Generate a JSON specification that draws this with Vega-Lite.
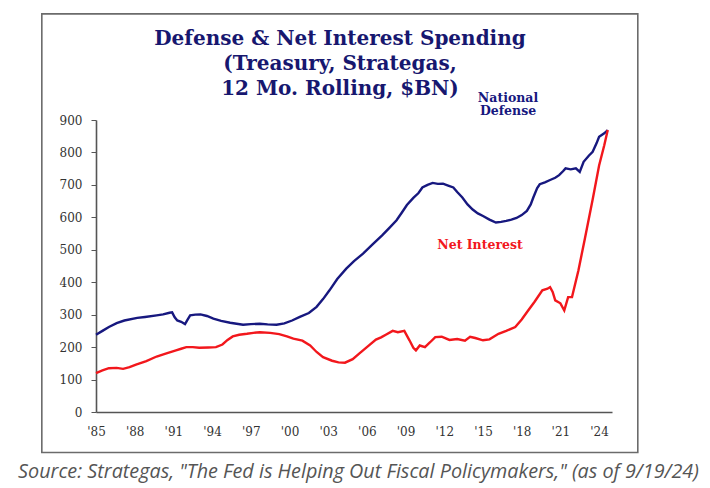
{
  "$schema": "https://vega.github.io/schema/vega-lite/v6.json",
  "width": 516,
  "height": 292,
  "autosize": {"type": "none"},
  "padding": {"left": 96, "top": 120, "right": 98, "bottom": 76},
  "background": "white",
  "config": {
    "view": {"stroke": null},
    "axis": {"labelOverlap": false, "labelFlush": false, "labelBound": false},
    "axisX": {"labelOverlap": false},
    "axisY": {"labelOverlap": false},
    "axisQuantitative": {"labelOverlap": false}
  },
  "title": {
    "text": ["Defense & Net Interest Spending", "(Treasury, Strategas,", "12 Mo. Rolling, $BN)"],
    "font": "DejaVu Serif",
    "fontWeight": "bold",
    "fontSize": 20,
    "lineHeight": 25,
    "color": "#17176f",
    "anchor": "middle",
    "frame": "group",
    "dx": -14,
    "offset": -86
  },
  "datasets": {
    "spend": [
      {"series": "National Defense", "year": 1985.0, "value": 238},
      {"series": "National Defense", "year": 1985.5, "value": 250},
      {"series": "National Defense", "year": 1986.0, "value": 262},
      {"series": "National Defense", "year": 1986.6, "value": 274},
      {"series": "National Defense", "year": 1987.2, "value": 282},
      {"series": "National Defense", "year": 1988.2, "value": 290},
      {"series": "National Defense", "year": 1988.8, "value": 293},
      {"series": "National Defense", "year": 1989.7, "value": 298},
      {"series": "National Defense", "year": 1990.2, "value": 301},
      {"series": "National Defense", "year": 1990.7, "value": 306},
      {"series": "National Defense", "year": 1990.9, "value": 307},
      {"series": "National Defense", "year": 1991.1, "value": 292},
      {"series": "National Defense", "year": 1991.3, "value": 282},
      {"series": "National Defense", "year": 1991.6, "value": 278},
      {"series": "National Defense", "year": 1991.9, "value": 271},
      {"series": "National Defense", "year": 1992.1, "value": 285},
      {"series": "National Defense", "year": 1992.3, "value": 298},
      {"series": "National Defense", "year": 1992.7, "value": 300},
      {"series": "National Defense", "year": 1993.1, "value": 301},
      {"series": "National Defense", "year": 1993.6, "value": 296},
      {"series": "National Defense", "year": 1994.1, "value": 288},
      {"series": "National Defense", "year": 1994.7, "value": 281},
      {"series": "National Defense", "year": 1995.4, "value": 275},
      {"series": "National Defense", "year": 1995.9, "value": 272},
      {"series": "National Defense", "year": 1996.4, "value": 269},
      {"series": "National Defense", "year": 1997.0, "value": 271},
      {"series": "National Defense", "year": 1997.7, "value": 272},
      {"series": "National Defense", "year": 1998.3, "value": 270},
      {"series": "National Defense", "year": 1999.0, "value": 269},
      {"series": "National Defense", "year": 1999.6, "value": 273},
      {"series": "National Defense", "year": 2000.2, "value": 282},
      {"series": "National Defense", "year": 2000.8, "value": 293},
      {"series": "National Defense", "year": 2001.5, "value": 305},
      {"series": "National Defense", "year": 2002.1, "value": 324},
      {"series": "National Defense", "year": 2002.6, "value": 348},
      {"series": "National Defense", "year": 2003.1, "value": 375},
      {"series": "National Defense", "year": 2003.7, "value": 410},
      {"series": "National Defense", "year": 2004.4, "value": 442},
      {"series": "National Defense", "year": 2005.0, "value": 465},
      {"series": "National Defense", "year": 2005.7, "value": 488},
      {"series": "National Defense", "year": 2006.4, "value": 515},
      {"series": "National Defense", "year": 2007.2, "value": 545},
      {"series": "National Defense", "year": 2007.8, "value": 570},
      {"series": "National Defense", "year": 2008.3, "value": 591},
      {"series": "National Defense", "year": 2008.7, "value": 614},
      {"series": "National Defense", "year": 2009.1, "value": 638},
      {"series": "National Defense", "year": 2009.6, "value": 660},
      {"series": "National Defense", "year": 2010.0, "value": 675},
      {"series": "National Defense", "year": 2010.3, "value": 692},
      {"series": "National Defense", "year": 2010.7, "value": 700},
      {"series": "National Defense", "year": 2011.1, "value": 706},
      {"series": "National Defense", "year": 2011.5, "value": 703},
      {"series": "National Defense", "year": 2011.9, "value": 704},
      {"series": "National Defense", "year": 2012.3, "value": 698},
      {"series": "National Defense", "year": 2012.7, "value": 692},
      {"series": "National Defense", "year": 2013.0, "value": 678},
      {"series": "National Defense", "year": 2013.4, "value": 661},
      {"series": "National Defense", "year": 2013.8, "value": 640},
      {"series": "National Defense", "year": 2014.2, "value": 624},
      {"series": "National Defense", "year": 2014.6, "value": 612},
      {"series": "National Defense", "year": 2015.0, "value": 604},
      {"series": "National Defense", "year": 2015.5, "value": 593},
      {"series": "National Defense", "year": 2016.0, "value": 584},
      {"series": "National Defense", "year": 2016.4, "value": 586},
      {"series": "National Defense", "year": 2016.8, "value": 589},
      {"series": "National Defense", "year": 2017.2, "value": 593},
      {"series": "National Defense", "year": 2017.6, "value": 598},
      {"series": "National Defense", "year": 2018.0, "value": 607},
      {"series": "National Defense", "year": 2018.4, "value": 620},
      {"series": "National Defense", "year": 2018.7, "value": 640},
      {"series": "National Defense", "year": 2018.9, "value": 661},
      {"series": "National Defense", "year": 2019.2, "value": 690},
      {"series": "National Defense", "year": 2019.4, "value": 702},
      {"series": "National Defense", "year": 2019.8, "value": 708},
      {"series": "National Defense", "year": 2020.2, "value": 715},
      {"series": "National Defense", "year": 2020.6, "value": 722},
      {"series": "National Defense", "year": 2020.9, "value": 730},
      {"series": "National Defense", "year": 2021.2, "value": 742},
      {"series": "National Defense", "year": 2021.4, "value": 751},
      {"series": "National Defense", "year": 2021.8, "value": 748},
      {"series": "National Defense", "year": 2022.2, "value": 751},
      {"series": "National Defense", "year": 2022.5, "value": 740},
      {"series": "National Defense", "year": 2022.8, "value": 771},
      {"series": "National Defense", "year": 2023.2, "value": 790},
      {"series": "National Defense", "year": 2023.5, "value": 802},
      {"series": "National Defense", "year": 2023.8, "value": 828},
      {"series": "National Defense", "year": 2024.0, "value": 848},
      {"series": "National Defense", "year": 2024.4, "value": 859},
      {"series": "National Defense", "year": 2024.67, "value": 869},
      {"series": "Net Interest", "year": 1985.0, "value": 120},
      {"series": "Net Interest", "year": 1985.5, "value": 128},
      {"series": "Net Interest", "year": 1986.0, "value": 135},
      {"series": "Net Interest", "year": 1986.6, "value": 136},
      {"series": "Net Interest", "year": 1987.1, "value": 133},
      {"series": "Net Interest", "year": 1987.6, "value": 138},
      {"series": "Net Interest", "year": 1988.1, "value": 146},
      {"series": "Net Interest", "year": 1988.9, "value": 157},
      {"series": "Net Interest", "year": 1989.7, "value": 171},
      {"series": "Net Interest", "year": 1990.4, "value": 180},
      {"series": "Net Interest", "year": 1991.2, "value": 190},
      {"series": "Net Interest", "year": 1991.6, "value": 195},
      {"series": "Net Interest", "year": 1992.0, "value": 200},
      {"series": "Net Interest", "year": 1992.5, "value": 200},
      {"series": "Net Interest", "year": 1993.0, "value": 198},
      {"series": "Net Interest", "year": 1993.7, "value": 199},
      {"series": "Net Interest", "year": 1994.3, "value": 200},
      {"series": "Net Interest", "year": 1994.8, "value": 208},
      {"series": "Net Interest", "year": 1995.2, "value": 222},
      {"series": "Net Interest", "year": 1995.6, "value": 233},
      {"series": "Net Interest", "year": 1996.1, "value": 238},
      {"series": "Net Interest", "year": 1996.7, "value": 241},
      {"series": "Net Interest", "year": 1997.2, "value": 244},
      {"series": "Net Interest", "year": 1997.7, "value": 246},
      {"series": "Net Interest", "year": 1998.5, "value": 244},
      {"series": "Net Interest", "year": 1999.2, "value": 240},
      {"series": "Net Interest", "year": 1999.8, "value": 233},
      {"series": "Net Interest", "year": 2000.3, "value": 226},
      {"series": "Net Interest", "year": 2001.0, "value": 220},
      {"series": "Net Interest", "year": 2001.6, "value": 205},
      {"series": "Net Interest", "year": 2002.1, "value": 185},
      {"series": "Net Interest", "year": 2002.6, "value": 169},
      {"series": "Net Interest", "year": 2003.3, "value": 158},
      {"series": "Net Interest", "year": 2003.8, "value": 153},
      {"series": "Net Interest", "year": 2004.3, "value": 152},
      {"series": "Net Interest", "year": 2004.9, "value": 163},
      {"series": "Net Interest", "year": 2005.4, "value": 180},
      {"series": "Net Interest", "year": 2006.0, "value": 200},
      {"series": "Net Interest", "year": 2006.7, "value": 223},
      {"series": "Net Interest", "year": 2007.1, "value": 230},
      {"series": "Net Interest", "year": 2007.5, "value": 239},
      {"series": "Net Interest", "year": 2008.0, "value": 250},
      {"series": "Net Interest", "year": 2008.4, "value": 246},
      {"series": "Net Interest", "year": 2008.9, "value": 250},
      {"series": "Net Interest", "year": 2009.3, "value": 221},
      {"series": "Net Interest", "year": 2009.6, "value": 198},
      {"series": "Net Interest", "year": 2009.8, "value": 190},
      {"series": "Net Interest", "year": 2010.1, "value": 205},
      {"series": "Net Interest", "year": 2010.5, "value": 200},
      {"series": "Net Interest", "year": 2010.9, "value": 215},
      {"series": "Net Interest", "year": 2011.3, "value": 231},
      {"series": "Net Interest", "year": 2011.8, "value": 232},
      {"series": "Net Interest", "year": 2012.4, "value": 222},
      {"series": "Net Interest", "year": 2013.0, "value": 225},
      {"series": "Net Interest", "year": 2013.6, "value": 220},
      {"series": "Net Interest", "year": 2014.0, "value": 232},
      {"series": "Net Interest", "year": 2014.4, "value": 228},
      {"series": "Net Interest", "year": 2015.0, "value": 221},
      {"series": "Net Interest", "year": 2015.5, "value": 224},
      {"series": "Net Interest", "year": 2016.2, "value": 241},
      {"series": "Net Interest", "year": 2016.8, "value": 250},
      {"series": "Net Interest", "year": 2017.5, "value": 262},
      {"series": "Net Interest", "year": 2018.0, "value": 285},
      {"series": "Net Interest", "year": 2018.5, "value": 313},
      {"series": "Net Interest", "year": 2019.0, "value": 340},
      {"series": "Net Interest", "year": 2019.6, "value": 375},
      {"series": "Net Interest", "year": 2020.0, "value": 380},
      {"series": "Net Interest", "year": 2020.2, "value": 385},
      {"series": "Net Interest", "year": 2020.4, "value": 370},
      {"series": "Net Interest", "year": 2020.6, "value": 344},
      {"series": "Net Interest", "year": 2021.0, "value": 335},
      {"series": "Net Interest", "year": 2021.3, "value": 313},
      {"series": "Net Interest", "year": 2021.6, "value": 354},
      {"series": "Net Interest", "year": 2021.9, "value": 354},
      {"series": "Net Interest", "year": 2022.4, "value": 437},
      {"series": "Net Interest", "year": 2022.9, "value": 535},
      {"series": "Net Interest", "year": 2023.5, "value": 655},
      {"series": "Net Interest", "year": 2024.0, "value": 760},
      {"series": "Net Interest", "year": 2024.4, "value": 822},
      {"series": "Net Interest", "year": 2024.67, "value": 869}
    ],
    "labels": [
      {"series": "National Defense", "year": 2016.94, "value": 968, "text": "National\nDefense"},
      {"series": "Net Interest", "year": 2014.77, "value": 516, "text": "Net Interest"}
    ]
  },
  "layer": [
    {
      "encoding": {
        "x": {
          "field": "year",
          "type": "quantitative",
          "scale": {"domain": [1985, 2025], "nice": false, "zero": false},
          "axis": {
            "values": [1985, 1988, 1991, 1994, 1997, 2000, 2003, 2006, 2009, 2012, 2015, 2018, 2021, 2024],
            "tickCount": 14,
            "labelExpr": "\"'\" + substring(toString(datum.value), 2)",
            "labelOverlap": false,
            "labelFlush": false,
            "ticks": false,
            "grid": false,
            "domainColor": "#555555",
            "domainWidth": 1.6,
            "labelFont": "DejaVu Serif",
            "labelFontSize": 12,
            "labelColor": "#333333",
            "labelPadding": 14,
            "title": "Source: Strategas, \"The Fed is Helping Out Fiscal Policymakers,\" (as of 9/19/24)",
            "titleFont": "Open Sans",
            "titleFontStyle": "italic",
            "titleFontWeight": "normal",
            "titleFontSize": 19.8,
            "titleColor": "#555555",
            "titlePadding": 24,
            "titleX": 262
          }
        },
        "y": {
          "field": "value",
          "type": "quantitative",
          "scale": {"domain": [0, 900], "nice": false},
          "axis": {
            "values": [0, 100, 200, 300, 400, 500, 600, 700, 800, 900],
            "tickCount": 10,
            "labelOverlap": false,
            "labelFlush": false,
            "grid": false,
            "title": null,
            "tickSize": 5,
            "tickColor": "#555555",
            "domainColor": "#555555",
            "domainWidth": 1.6,
            "labelFont": "DejaVu Serif",
            "labelFontSize": 12,
            "labelColor": "#333333",
            "labelPadding": 9
          }
        }
      },
      "layer": [
        {
          "data": {"name": "spend"},
          "mark": {"type": "line", "strokeWidth": 2.4, "interpolate": "linear"},
          "encoding": {
            "color": {
              "field": "series",
              "type": "nominal",
              "scale": {"domain": ["National Defense", "Net Interest"], "range": ["#17187f", "#f2171c"]},
              "legend": null
            }
          }
        },
        {
          "data": {"name": "labels"},
          "mark": {"type": "text", "font": "DejaVu Serif", "fontWeight": "bold", "fontSize": 12.5, "lineHeight": 13.5, "lineBreak": "\n", "align": "center", "baseline": "middle"},
          "encoding": {
            "text": {"field": "text"},
            "color": {
              "field": "series",
              "type": "nominal",
              "scale": {"domain": ["National Defense", "Net Interest"], "range": ["#1b2470", "#f2171c"]},
              "legend": null
            }
          }
        }
      ]
    },
    {
      "data": {"values": [{}]},
      "mark": {"type": "rect", "fill": null, "fillOpacity": 0, "stroke": "#6b6b6b", "strokeWidth": 1.6},
      "encoding": {
        "x": {
          "datum": 1980.8,
          "type": "quantitative",
          "axis": {
            "values": [1985, 1988, 1991, 1994, 1997, 2000, 2003, 2006, 2009, 2012, 2015, 2018, 2021, 2024],
            "tickCount": 14,
            "labelExpr": "\"'\" + substring(toString(datum.value), 2)",
            "labelOverlap": false,
            "labelFlush": false,
            "ticks": false,
            "grid": false,
            "domainColor": "#555555",
            "domainWidth": 1.6,
            "labelFont": "DejaVu Serif",
            "labelFontSize": 12,
            "labelColor": "#333333",
            "labelPadding": 14,
            "title": "Source: Strategas, \"The Fed is Helping Out Fiscal Policymakers,\" (as of 9/19/24)",
            "titleFont": "Open Sans",
            "titleFontStyle": "italic",
            "titleFontWeight": "normal",
            "titleFontSize": 19.8,
            "titleColor": "#555555",
            "titlePadding": 24,
            "titleX": 262
          }
        },
        "x2": {"datum": 2027.0},
        "y": {
          "datum": -125,
          "type": "quantitative",
          "axis": {
            "values": [0, 100, 200, 300, 400, 500, 600, 700, 800, 900],
            "tickCount": 10,
            "labelOverlap": false,
            "labelFlush": false,
            "grid": false,
            "title": null,
            "tickSize": 5,
            "tickColor": "#555555",
            "domainColor": "#555555",
            "domainWidth": 1.6,
            "labelFont": "DejaVu Serif",
            "labelFontSize": 12,
            "labelColor": "#333333",
            "labelPadding": 9
          }
        },
        "y2": {"datum": 1227}
      }
    }
  ]
}
